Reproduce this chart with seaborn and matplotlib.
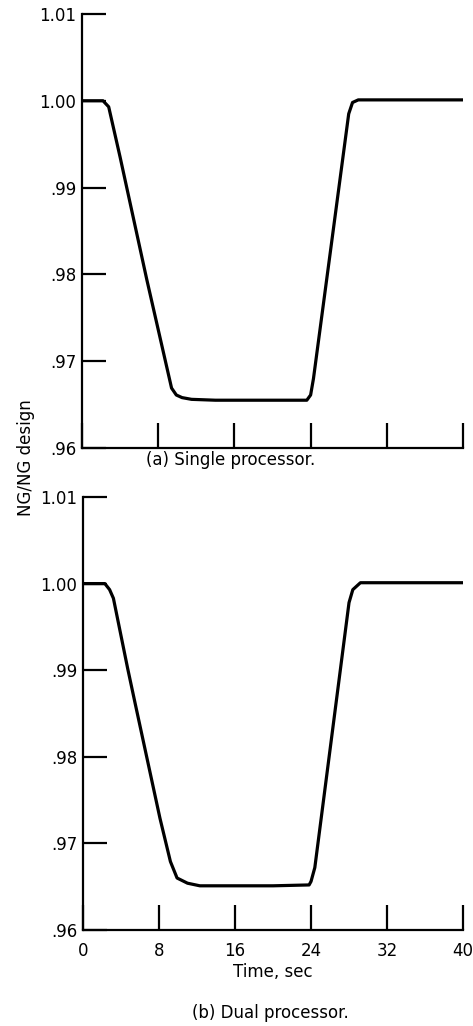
import matplotlib
matplotlib.use("Agg")
import matplotlib.pyplot as plt
import seaborn as sns
import pandas as pd

# Speed response, single processor
time_single = [0, 2.2, 2.8, 4.0, 6.8, 9.4, 9.9, 10.5, 11.5, 14, 18, 22, 23.6,
               24.0, 24.3, 26.0, 28.0, 28.4, 29.0, 32, 36, 40]
ng_single = [1.0000, 1.0000, 0.9993, 0.9935, 0.9794, 0.9669, 0.9661, 0.9658,
             0.9656, 0.9655, 0.9655, 0.9655, 0.9655, 0.9661, 0.9680, 0.9820,
             0.9985, 0.9998, 1.0001, 1.0001, 1.0001, 1.0001]

# Speed response, dual processor
time_dual = [0, 2.3, 2.8, 3.2, 4.7, 5.5, 8.1, 9.2, 9.9, 11.0, 12.3, 16, 20,
             23.8, 24.0, 24.4, 27.0, 28.0, 28.4, 29.2, 32, 36, 40]
ng_dual = [1.0000, 1.0000, 0.9993, 0.9983, 0.9902, 0.9861, 0.9729, 0.9679,
           0.9660, 0.9654, 0.9651, 0.9651, 0.9651, 0.9652, 0.9656, 0.9672,
           0.9893, 0.9978, 0.9993, 1.0001, 1.0001, 1.0001, 1.0001]

x_ticks = [0, 8, 16, 24, 32, 40]
y_ticks = [0.96, 0.97, 0.98, 0.99, 1.00, 1.01]
y_ticklabels = [".96", ".97", ".98", ".99", "1.00", "1.01"]

sns.set_style("ticks")
plt.rcParams["font.family"] = ["Liberation Sans Narrow", "DejaVu Sans"]
plt.rcParams["text.color"] = "black"
plt.rcParams["axes.labelcolor"] = "black"

fig = plt.figure(figsize=(4.73, 10.26), dpi=100)
ax_top = fig.add_axes([0.1734, 0.5634, 0.8055, 0.4230])
ax_bot = fig.add_axes([0.1755, 0.0936, 0.8034, 0.4220])

panels = [
    (ax_top, time_single, ng_single),
    (ax_bot, time_dual, ng_dual),
]

for ax, t, v in panels:
    df = pd.DataFrame({"t": t, "v": v})
    sns.lineplot(data=df, x="t", y="v", ax=ax, color="black", linewidth=2.3,
                 estimator=None, sort=False)
    ax.set_xlim(0, 40)
    ax.set_ylim(0.96, 1.01)
    ax.set_xticks(x_ticks)
    ax.set_yticks(y_ticks)
    ax.set_yticklabels(y_ticklabels)
    for side in ("top", "right"):
        ax.spines[side].set_visible(False)
    for side in ("left", "bottom"):
        ax.spines[side].set_linewidth(1.6)
        ax.spines[side].set_color("black")
    ax.tick_params(axis="x", direction="in", length=18, width=1.6,
                   colors="black", labelcolor="black", labelsize=12, pad=9)
    ax.tick_params(axis="y", direction="in", length=17, width=1.6,
                   colors="black", labelcolor="black", labelsize=12, pad=4)
    ax.set_xlabel("")
    ax.set_ylabel("")

ax_top.tick_params(axis="x", labelbottom=False)
ax_bot.set_xlabel("Time, sec", fontsize=12, labelpad=2, color="black")

fig.text(0.488, 0.552, "(a) Single processor.", ha="center", va="center",
         fontsize=12, color="black")
fig.text(0.572, 0.013, "(b) Dual processor.", ha="center", va="center",
         fontsize=12, color="black")
fig.text(0.055, 0.5536, "NG/NG design", rotation=90, ha="center",
         va="center", fontsize=12, color="black")

fig.savefig("out.png", dpi=100, facecolor="white")
